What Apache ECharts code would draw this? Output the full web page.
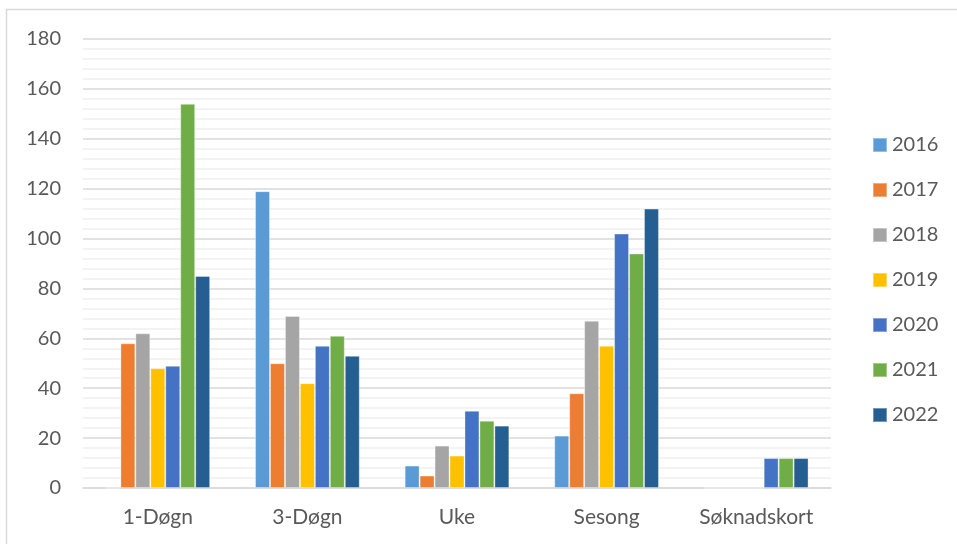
<!DOCTYPE html>
<html>
<head>
<meta charset="utf-8">
<script src="https://cdn.jsdelivr.net/npm/echarts@6/dist/echarts.min.js"></script>
<style>
html,body{margin:0;padding:0;background:#fff;}
#c{width:957px;height:544px;}
</style>
</head>
<body>
<div id="c"></div>
<script>
const categories = ['1-Døgn', '3-Døgn', 'Uke', 'Sesong', 'Søknadskort'];
const years = ['2016', '2017', '2018', '2019', '2020', '2021', '2022'];
const v2016 = [0, 119, 9, 21, 0];
const v2017 = [58, 50, 5, 38, 0];
const v2018 = [62, 69, 17, 67, 0];
const v2019 = [48, 42, 13, 57, 0];
const v2020 = [49, 57, 31, 102, 12];
const v2021 = [154, 61, 27, 94, 12];
const v2022 = [85, 53, 25, 112, 12];
const seriesValues = [v2016, v2017, v2018, v2019, v2020, v2021, v2022];
const colors = ['#5B9BD5', '#ED7D31', '#A5A5A5', '#FFC000', '#4472C4', '#70AD47', '#255E91'];

const font = 'Lato, "Open Sans", sans-serif';
const chart = echarts.init(document.getElementById('c'));
chart.setOption({
  animation: false,
  color: colors,
  graphic: [{
    type: 'rect',
    shape: { x: 6.5, y: 9.5, width: 1000, height: 600 },
    style: { fill: 'none', stroke: '#d9d9d9', lineWidth: 1.5 },
    silent: true, z: -1
  }],
  grid: { left: 83, right: 126, top: 39, bottom: 56, containLabel: false },
  legend: {
    orient: 'vertical',
    left: 872,
    top: 135,
    padding: 0,
    itemWidth: 14,
    itemHeight: 14,
    itemGap: 25,
    icon: 'rect',
    textStyle: { fontFamily: font, fontSize: 20, lineHeight: 20, color: '#595959', padding: 0 },
    data: years
  },
  xAxis: {
    type: 'category',
    data: categories,
    axisLine: { show: true, lineStyle: { color: '#d9d9d9', width: 1.5 } },
    axisTick: { show: false },
    axisLabel: { fontFamily: font, fontSize: 21, color: '#595959', margin: 19 }
  },
  yAxis: {
    type: 'value',
    min: 0, max: 180, interval: 20,
    axisLine: { show: false },
    axisTick: { show: false },
    axisLabel: { fontFamily: font, fontSize: 20, color: '#595959', margin: 22 },
    splitLine: { show: true, lineStyle: { color: '#d9d9d9', width: 1.5 } },
    minorTick: { show: false, splitNumber: 5 },
    minorSplitLine: { show: true, lineStyle: { color: '#f0f0f0', width: 1.5 } }
  },
  series: years.map((y, i) => ({
    name: y,
    type: 'bar',
    data: seriesValues[i],
    barGap: '0%',
    barCategoryGap: '30%',
    itemStyle: { borderColor: 'rgba(255,255,255,0.35)', borderWidth: 1 }
  }))
});
</script>
</body>
</html>
